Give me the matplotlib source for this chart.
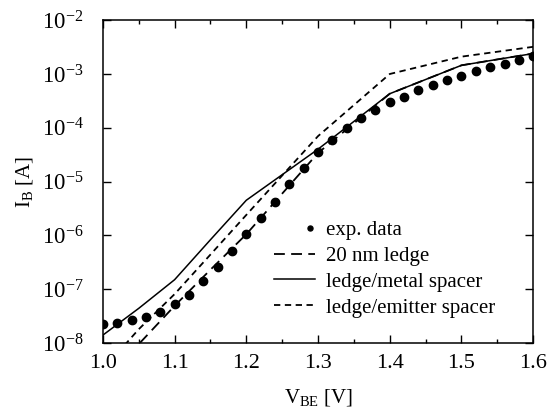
import matplotlib
matplotlib.use('Agg')
import matplotlib.pyplot as plt
from matplotlib.ticker import MultipleLocator, LogLocator, NullLocator
from matplotlib.legend_handler import HandlerLine2D

plt.rcParams['font.family'] = ['Liberation Serif', 'DejaVu Serif']
plt.rcParams['mathtext.fontset'] = 'custom'
plt.rcParams['mathtext.rm'] = 'Liberation Serif'
plt.rcParams['mathtext.it'] = 'Liberation Serif:italic'

# measured base current
v_exp = [1.00, 1.02, 1.04, 1.06, 1.08, 1.10, 1.12, 1.14, 1.16, 1.18,
         1.20, 1.22, 1.24, 1.26, 1.28, 1.30, 1.32, 1.34, 1.36, 1.38,
         1.40, 1.42, 1.44, 1.46, 1.48, 1.50, 1.52, 1.54, 1.56, 1.58, 1.60]
i_exp = [2.3e-8, 2.4e-8, 2.65e-8, 3.0e-8, 3.7e-8, 5.2e-8, 7.8e-8, 1.4e-7, 2.6e-7, 5.1e-7,
         1.05e-6, 2.15e-6, 4.2e-6, 9.2e-6, 1.8e-5, 3.5e-5, 5.9e-5, 1.0e-4, 1.55e-4, 2.15e-4,
         3.0e-4, 3.8e-4, 5.0e-4, 6.3e-4, 7.7e-4, 9.3e-4, 1.12e-3, 1.34e-3, 1.55e-3, 1.85e-3, 2.2e-3]

# simulations
v_sim = [1.00, 1.05, 1.10, 1.15, 1.20, 1.30, 1.40, 1.50, 1.60]
i_ledge = [2.2e-9, 9.5e-9, 4.9e-8, 2.3e-7, 1.05e-6, 3.4e-5, 4.3e-4, 1.45e-3, 2.4e-3]
i_metal = [1.4e-8, 4.4e-8, 1.5e-7, 8.3e-7, 4.5e-6, 4.0e-5, 4.3e-4, 1.45e-3, 2.4e-3]
i_emitter = [3.2e-9, 1.8e-8, 8.1e-8, 4.4e-7, 2.4e-6, 7.0e-5, 1.0e-3, 2.1e-3, 3.2e-3]


class DotAtEnd(HandlerLine2D):
    # put the legend marker right before the label text
    def get_xdata(self, legend, xdescent, ydescent, width, height, fontsize):
        e = -xdescent + width - 4
        return [e, e], [e]


fig = plt.figure(figsize=(5.56, 4.12), dpi=100)
ax = fig.add_axes([0.185, 0.1675, 0.774, 0.7835])

dots, = ax.plot(v_exp, i_exp, 'o', color='black', markersize=6, label='exp. data', zorder=3)
ax.plot(v_sim, i_ledge, color='black', lw=1.3, dashes=(6, 3.5), label='20 nm ledge')
ax.plot(v_sim, i_metal, color='black', lw=1.1, label='ledge/metal spacer')
ax.plot(v_sim, i_emitter, color='black', lw=1.3, dashes=(3.5, 2.5), label='ledge/emitter spacer')

ax.set_yscale('log')
ax.set_xlim(1.0, 1.6)
ax.set_ylim(1e-8, 1e-2)
ax.xaxis.set_major_locator(MultipleLocator(0.1))
ax.xaxis.set_minor_locator(MultipleLocator(0.05))
ax.yaxis.set_major_locator(LogLocator(base=10, numticks=10))
ax.yaxis.set_minor_locator(NullLocator())
ax.xaxis.set_major_formatter(plt.FuncFormatter(lambda v, p: '%.1f' % v))

ax.tick_params(which='both', direction='in', top=True, right=True, width=1.0)
ax.tick_params(which='major', length=6)
ax.tick_params(which='minor', length=3)
ax.tick_params(axis='x', which='major', labelsize=16, pad=8)
ax.tick_params(axis='y', which='major', labelsize=16.5, pad=14)
for s in ax.spines.values():
    s.set_linewidth(1.1)

ax.set_xlabel(r'V$_{\mathrm{BE}}$ [V]', fontsize=15, labelpad=10)
ax.set_ylabel(r'I$_{\mathrm{B}}$ [A]', fontsize=15, labelpad=5)

ax.legend(loc='lower right', bbox_to_anchor=(0.94, 0.04), frameon=False, fontsize=15,
          handlelength=2.0, handletextpad=0.5, labelspacing=0.3, numpoints=1,
          markerscale=0.6, borderaxespad=0.2, handler_map={dots: DotAtEnd()})

fig.savefig('out.png', dpi=100)
